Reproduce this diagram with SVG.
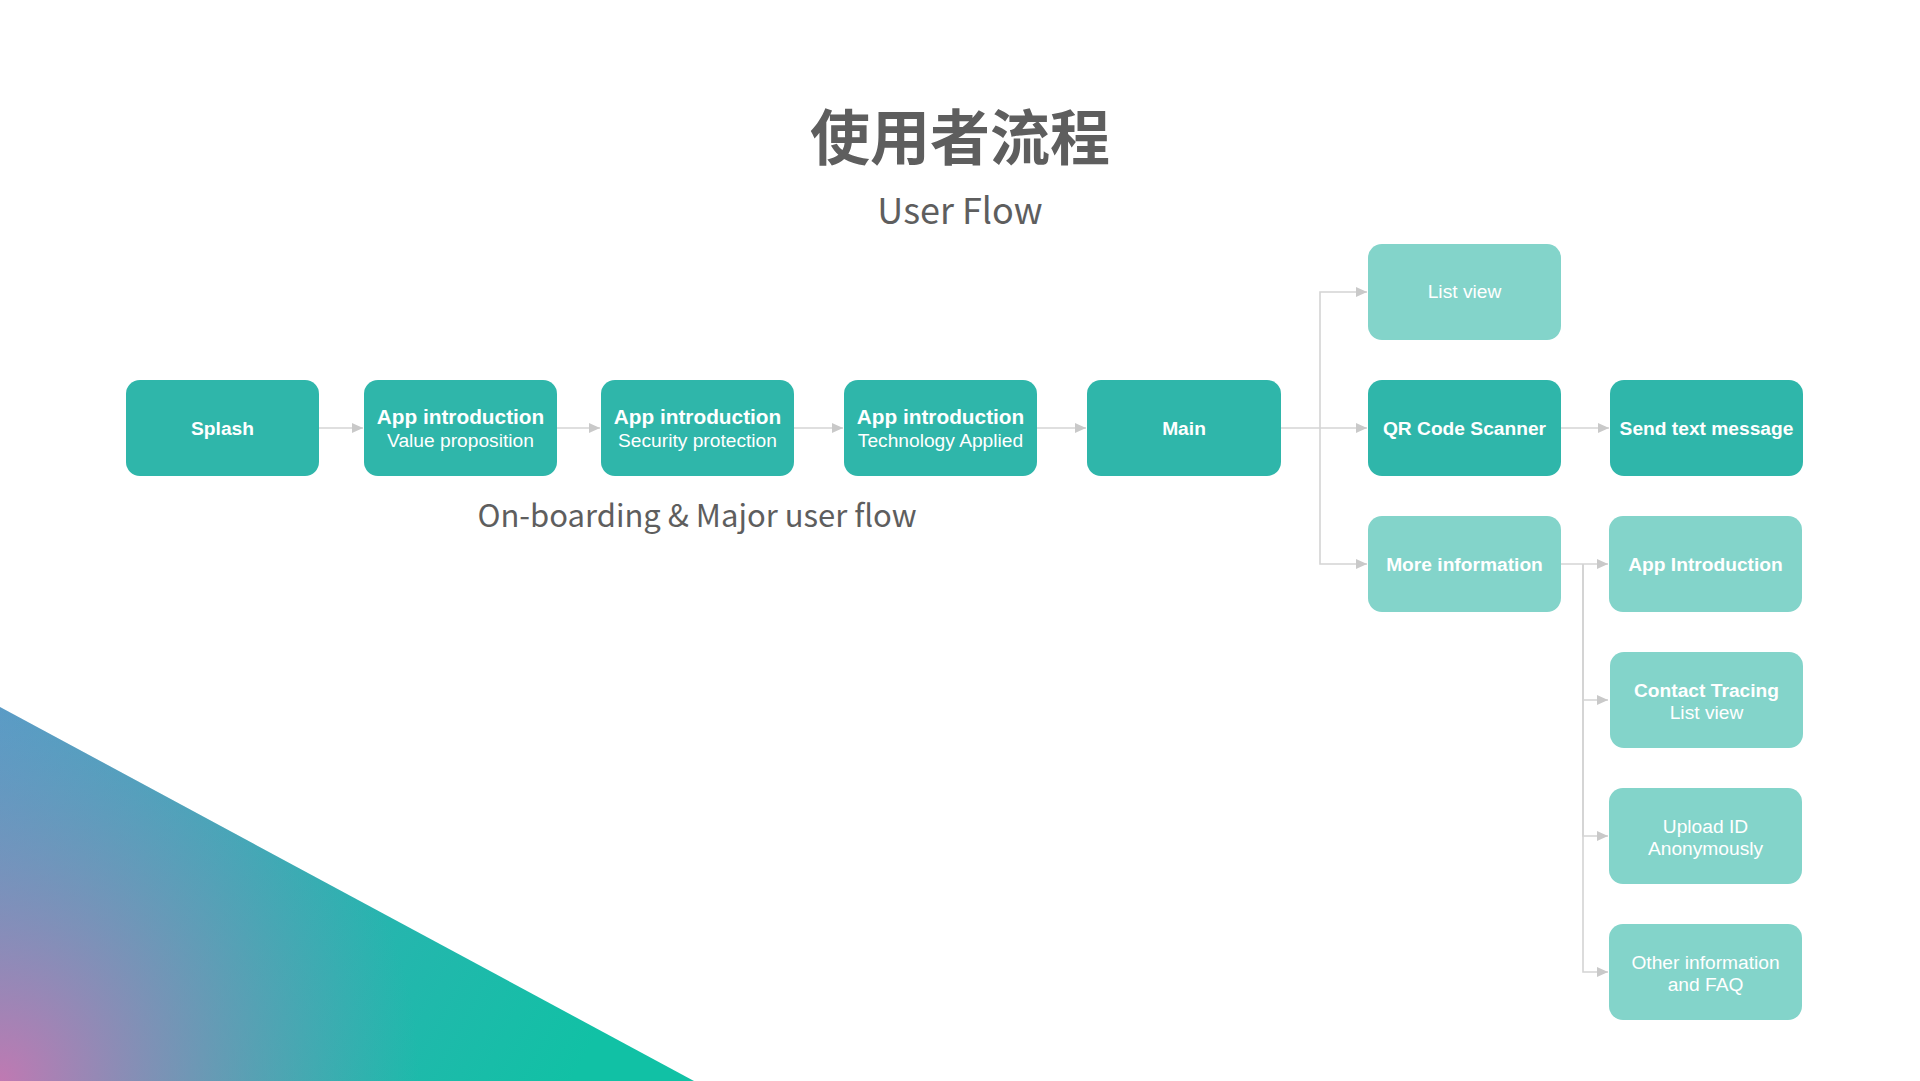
<svg xmlns="http://www.w3.org/2000/svg" width="1920" height="1081" viewBox="0 0 1920 1081">
<defs>
<style>
.dark{fill:#2fb6aa}
.light{fill:#83d4ca}
.b{font-family:"Liberation Sans",Arial,sans-serif;font-weight:bold;font-size:19.2px;fill:#fff;text-anchor:middle}
.bi{font-family:"Liberation Sans",Arial,sans-serif;font-weight:bold;font-size:20.8px;fill:#fff;text-anchor:middle}
.r{font-family:"Liberation Sans",Arial,sans-serif;font-size:19.2px;fill:#fff;text-anchor:middle}
.con{fill:none;stroke:#d4d4d4;stroke-width:1.6}
.h{font-family:"Noto Sans CJK SC","Noto Sans",sans-serif;fill:#5e5e5e;text-anchor:middle}
</style>
<marker id="arr" markerUnits="userSpaceOnUse" markerWidth="11" markerHeight="11" refX="11" refY="5.5" orient="auto">
<path d="M0,0.5 L11,5.5 L0,10.5 z" fill="#c9c9c9"/>
</marker>
<linearGradient id="base" gradientUnits="userSpaceOnUse" x1="0" y1="707" x2="600" y2="1030">
<stop offset="0" stop-color="#559dc7"/>
<stop offset="0.5" stop-color="#2fb0b2"/>
<stop offset="1" stop-color="#11c1a5"/>
</linearGradient>
<radialGradient id="pink" gradientUnits="userSpaceOnUse" cx="0" cy="1081" r="420">
<stop offset="0" stop-color="#c079b2" stop-opacity="1"/>
<stop offset="0.45" stop-color="#9b86b7" stop-opacity="0.6"/>
<stop offset="1" stop-color="#7e92bb" stop-opacity="0"/>
</radialGradient>
</defs>
<rect width="1920" height="1081" fill="#fff"/>
<g id="background-triangle">
<polygon points="0,707 694,1081 0,1081" fill="url(#base)"/>
<polygon points="0,707 694,1081 0,1081" fill="url(#pink)"/>
</g>
<g id="titles">
<text class="h" x="960" y="160" font-size="60" font-weight="bold">使用者流程</text>
<text class="h" x="960" y="224" font-size="36">User Flow</text>
<text class="h" x="697" y="527" font-size="31">On-boarding &amp; Major user flow</text>
</g>
<g id="connectors">
<path class="con" d="M319,428 H363" marker-end="url(#arr)"/>
<path class="con" d="M557,428 H600" marker-end="url(#arr)"/>
<path class="con" d="M794,428 H843" marker-end="url(#arr)"/>
<path class="con" d="M1037,428 H1086" marker-end="url(#arr)"/>
<path class="con" d="M1281,428 H1367" marker-end="url(#arr)"/>
<path class="con" d="M1320,428 V292 H1367" marker-end="url(#arr)"/>
<path class="con" d="M1320,428 V564 H1367" marker-end="url(#arr)"/>
<path class="con" d="M1561,428 H1609" marker-end="url(#arr)"/>
<path class="con" d="M1561,564 H1608" marker-end="url(#arr)"/>
<path class="con" d="M1583,564 V700 H1608" marker-end="url(#arr)"/>
<path class="con" d="M1583,564 V836 H1608" marker-end="url(#arr)"/>
<path class="con" d="M1583,564 V972 H1608" marker-end="url(#arr)"/>
</g>
<g id="splash"><rect class="dark" x="126" y="380" width="193" height="96" rx="14"/><text class="b" x="222.5" y="435">Splash</text></g>
<g id="app-intro-value"><rect class="dark" x="364" y="380" width="193" height="96" rx="14"/><text class="bi" x="460.5" y="424">App introduction</text><text class="r" x="460.5" y="447">Value proposition</text></g>
<g id="app-intro-security"><rect class="dark" x="601" y="380" width="193" height="96" rx="14"/><text class="bi" x="697.5" y="424">App introduction</text><text class="r" x="697.5" y="447">Security protection</text></g>
<g id="app-intro-tech"><rect class="dark" x="844" y="380" width="193" height="96" rx="14"/><text class="bi" x="940.5" y="424">App introduction</text><text class="r" x="940.5" y="447">Technology Applied</text></g>
<g id="main"><rect class="dark" x="1087" y="380" width="194" height="96" rx="14"/><text class="b" x="1184" y="435">Main</text></g>
<g id="list-view"><rect class="light" x="1368" y="244" width="193" height="96" rx="14"/><text class="r" x="1464.5" y="298">List view</text></g>
<g id="qr-scanner"><rect class="dark" x="1368" y="380" width="193" height="96" rx="14"/><text class="b" x="1464.5" y="435">QR Code Scanner</text></g>
<g id="send-text"><rect class="dark" x="1610" y="380" width="193" height="96" rx="14"/><text class="b" x="1706.5" y="435">Send text message</text></g>
<g id="more-info"><rect class="light" x="1368" y="516" width="193" height="96" rx="14"/><text class="b" x="1464.5" y="571">More information</text></g>
<g id="app-introduction"><rect class="light" x="1609" y="516" width="193" height="96" rx="14"/><text class="b" x="1705.5" y="571">App Introduction</text></g>
<g id="contact-tracing"><rect class="light" x="1610" y="652" width="193" height="96" rx="14"/><text class="b" x="1706.5" y="697">Contact Tracing</text><text class="r" x="1706.5" y="719">List view</text></g>
<g id="upload-id"><rect class="light" x="1609" y="788" width="193" height="96" rx="14"/><text class="r" x="1705.5" y="833">Upload ID</text><text class="r" x="1705.5" y="855">Anonymously</text></g>
<g id="other-info"><rect class="light" x="1609" y="924" width="193" height="96" rx="14"/><text class="r" x="1705.5" y="969">Other information</text><text class="r" x="1705.5" y="991">and FAQ</text></g>
</svg>
